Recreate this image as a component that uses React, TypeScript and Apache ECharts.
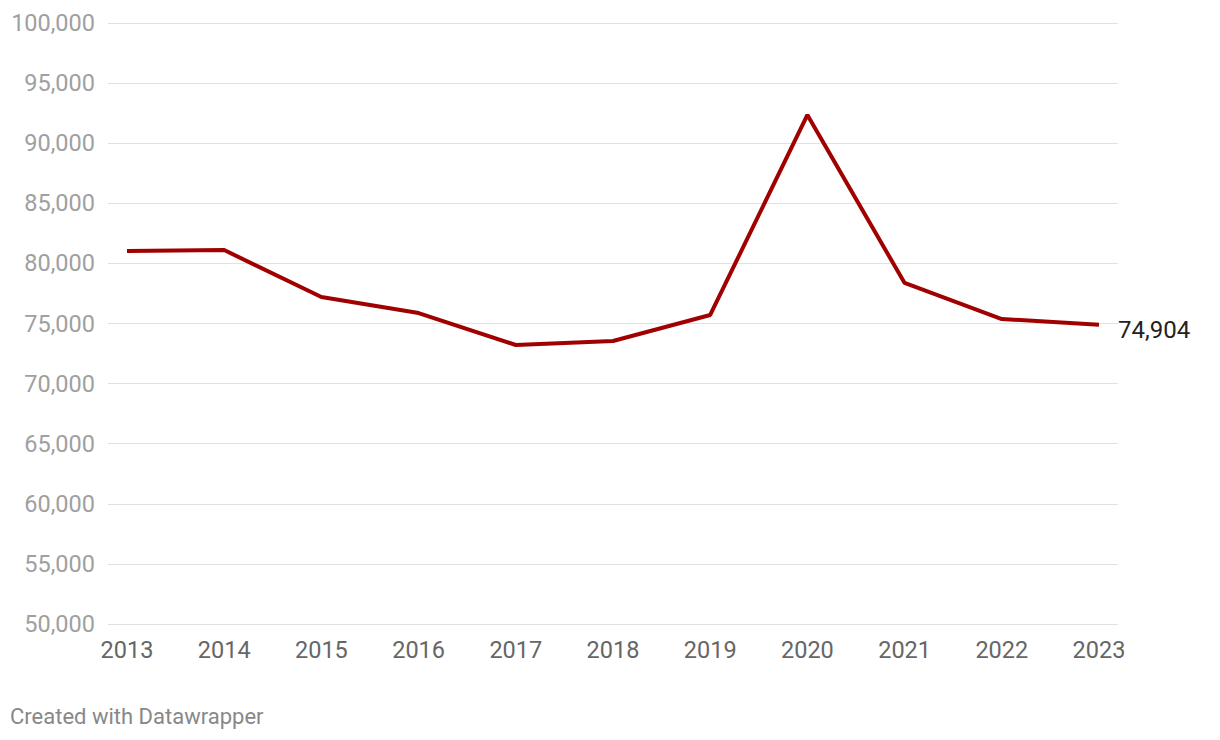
import React, { useEffect, useRef } from "react";
import * as echarts from "echarts";

const years = ["2013", "2014", "2015", "2016", "2017", "2018", "2019", "2020", "2021", "2022", "2023"];
const values = [81030, 81110, 77200, 75870, 73210, 73540, 75710, 92350, 78370, 75370, 74904];
const yMin = 50000;
const yMax = 100000;
const yStep = 5000;

export default function App() {
  const ref = useRef<HTMLDivElement>(null);
  useEffect(() => {
    if (!ref.current) return;
    const chart = echarts.init(ref.current, null, { renderer: "svg" });
    const font = "Roboto, 'Noto Sans', sans-serif";
    chart.setOption({
      animation: false,
      backgroundColor: "#ffffff",
      textStyle: { fontFamily: font },
      grid: [
        { left: 108, right: 102, top: 23, bottom: 116 },
        { left: 127, right: 121, top: 23, bottom: 116 },
      ],
      xAxis: [
        { type: "value", gridIndex: 0, min: 0, max: 1, show: false },
        {
          type: "category",
          gridIndex: 1,
          data: years,
          boundaryGap: false,
          axisLine: { show: false },
          axisTick: { show: false },
          splitLine: { show: false },
          axisLabel: { color: "#666666", fontSize: 23.5, margin: 14, fontFamily: font, interval: 0 },
        },
      ],
      yAxis: [
        {
          type: "value",
          gridIndex: 0,
          min: yMin,
          max: yMax,
          interval: yStep,
          axisLine: { show: false },
          axisTick: { show: false },
          splitLine: { lineStyle: { color: "#e1e1e1", width: 1 } },
          axisLabel: {
            color: "#a0a0a0",
            fontSize: 23.5,
            margin: 13,
            fontFamily: font,
            formatter: (v: number) => v.toLocaleString("en-US"),
          },
        },
        { type: "value", gridIndex: 1, min: yMin, max: yMax, interval: yStep, show: false },
      ],
      series: [
        {
          type: "line",
          xAxisIndex: 1,
          yAxisIndex: 1,
          data: values,
          symbol: "none",
          lineStyle: { color: "#a00000", width: 4 },
          endLabel: {
            show: true,
            color: "#222222",
            fontSize: 24,
            fontFamily: font,
            distance: 19,
            offset: [0, 5],
            formatter: (p: any) => Number(p.value).toLocaleString("en-US"),
          },
        },
      ],
      graphic: [
        {
          type: "text",
          left: 10,
          top: 705,
          style: { text: "Created with Datawrapper", fill: "#888888", fontSize: 22, fontFamily: font },
        },
      ],
    });
    return () => chart.dispose();
  }, []);
  return <div ref={ref} style={{ position: "fixed", left: 0, top: 0, width: 1220, height: 740 }} />;
}
